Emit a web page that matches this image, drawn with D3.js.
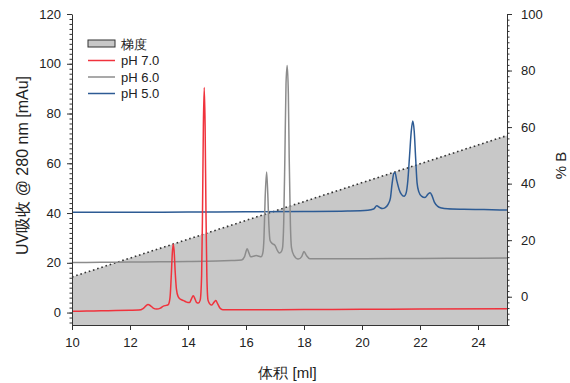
<!DOCTYPE html>
<html><head><meta charset="utf-8">
<script src="https://cdn.jsdelivr.net/npm/d3@7"></script>
<style>
body{margin:0;background:#fff;}
text{font-family:"Liberation Sans",Arial,sans-serif;fill:#222;}
</style></head>
<body><svg id="c" width="570" height="383"></svg>
<script>
// ---- data ----
const xTicks = [10,12,14,16,18,20,22,24];
const yLeftTicks = [0,20,40,60,80,100,120];
const yRightTicks = [0,20,40,60,80,100];
const legendLabels = ["梯度","pH 7.0","pH 6.0","pH 5.0"];
const gradient = [[10,7],[25,57]];
const ph7 = [[10,0.5],[10.5,0.6],[11,0.7],[11.5,0.8],[12,0.9],[12.3,1.0],[12.45,1.6],[12.55,2.7],[12.62,3.2],[12.7,2.8],[12.8,1.8],[12.92,1.4],[13.05,1.8],[13.15,2.6],[13.25,2.9],[13.32,3.2],[13.38,6],[13.42,14],[13.46,24],[13.49,27.5],[13.52,25],[13.56,16],[13.6,9.5],[13.66,6.4],[13.75,5.3],[13.85,4.8],[13.95,4.2],[14.05,4.0],[14.12,5.5],[14.18,6.8],[14.24,5.5],[14.3,4.0],[14.36,3.8],[14.42,5],[14.47,15],[14.5,40],[14.53,75],[14.56,90.5],[14.59,75],[14.62,40],[14.65,15],[14.69,5.0],[14.75,3.5],[14.82,3.0],[14.9,4.2],[14.96,4.8],[15.02,3.6],[15.1,1.8],[15.2,1.1],[16,1.1],[18,1.2],[20,1.3],[22,1.4],[25,1.5]];
const ph6 = [[10,20.1],[11,20.2],[12,20.3],[13,20.4],[14,20.5],[15,20.7],[15.5,20.9],[15.85,21.1],[15.95,22.5],[16.04,25.6],[16.1,24],[16.16,22.4],[16.25,22.6],[16.35,22.9],[16.45,22.6],[16.52,22.4],[16.58,24],[16.62,30],[16.66,46],[16.71,56.5],[16.75,48],[16.79,35],[16.83,29],[16.9,27.8],[17.0,27],[17.08,25],[17.15,23.9],[17.22,24.5],[17.26,26],[17.3,36],[17.34,62],[17.38,92],[17.42,99.3],[17.46,88],[17.49,62],[17.53,36],[17.57,26],[17.65,23],[17.8,21.5],[17.92,22.5],[18.0,24.5],[18.08,23],[18.2,21.6],[19,21.6],[21,21.7],[23,21.8],[25,21.9]];
const ph5 = [[10,40.3],[12,40.3],[14,40.4],[16,40.5],[18,40.6],[19.5,40.8],[20.2,41.1],[20.4,41.6],[20.51,42.9],[20.6,42.3],[20.7,41.8],[20.8,42.2],[20.9,43.5],[20.98,46],[21.04,52],[21.1,56],[21.14,56.2],[21.2,53],[21.28,49.5],[21.36,47.5],[21.45,46.7],[21.52,48],[21.58,53],[21.64,63],[21.7,73],[21.75,77],[21.8,73],[21.85,62],[21.9,52],[21.96,48.5],[22.05,46.8],[22.17,46.2],[22.27,47.5],[22.35,48.2],[22.42,46.8],[22.5,44.3],[22.6,42.8],[22.75,42],[22.95,41.7],[23.5,41.5],[24.2,41.4],[25,41.2]];

const colors = {grad:"#c8c8c8", ph7:"#f0323c", ph6:"#8c8c8c", ph5:"#2d5b94"};

const svg = d3.select("#c");
const L=72, R=507, T=14, B=325;
const x = d3.scaleLinear().domain([10,25]).range([L,R]);
const yL = d3.scaleLinear().domain([-5,120]).range([B,T]);
const yR = d3.scaleLinear().domain([-10,100]).range([B,T]);

// gradient area
svg.append("path").datum(gradient)
  .attr("d", d3.area().x(d=>x(d[0])).y0(B).y1(d=>yR(d[1])))
  .attr("fill", colors.grad);
svg.append("path").datum(gradient)
  .attr("d", d3.line().x(d=>x(d[0])).y(d=>yR(d[1])))
  .attr("fill","none").attr("stroke","#333").attr("stroke-width",1.6)
  .attr("stroke-dasharray","1.6,2.8");

const line = d3.line().x(d=>x(d[0])).y(d=>yL(d[1])).curve(d3.curveMonotoneX);
[[ph5,colors.ph5],[ph6,colors.ph6],[ph7,colors.ph7]].forEach(([d,c])=>{
  svg.append("path").datum(d).attr("d",line)
    .attr("fill","none").attr("stroke",c).attr("stroke-width",1.5)
    .attr("stroke-linejoin","round");
});

// axes
function styleAxis(g){
  g.select(".domain").attr("stroke","#333").attr("stroke-width",1);
  g.selectAll(".tick line").attr("stroke","#333");
  g.selectAll("text").attr("font-size",13).attr("fill","#222")
   .attr("font-family","Liberation Sans, Arial, sans-serif");
}
// minor ticks
const minorL = d3.range(-4,121,2);
const minorR = d3.range(-10,101,2);
svg.append("g").attr("transform",`translate(${L},0)`)
  .call(d3.axisLeft(yL).tickValues(minorL).tickSize(2.5).tickFormat(""))
  .call(g=>{g.select(".domain").remove(); g.selectAll(".tick line").attr("stroke","#333");});
svg.append("g").attr("transform",`translate(${R},0)`)
  .call(d3.axisRight(yR).tickValues(minorR).tickSize(2.5).tickFormat(""))
  .call(g=>{g.select(".domain").remove(); g.selectAll(".tick line").attr("stroke","#333");});

svg.append("g").attr("transform",`translate(0,${B})`)
  .call(d3.axisBottom(x).tickValues(xTicks).tickSize(5).tickSizeOuter(0).tickPadding(8))
  .call(styleAxis);
svg.append("g").attr("transform",`translate(${L},0)`)
  .call(d3.axisLeft(yL).tickValues(yLeftTicks).tickSize(5).tickSizeOuter(0).tickPadding(6))
  .call(styleAxis);
svg.append("g").attr("transform",`translate(${R},0)`)
  .call(d3.axisRight(yR).tickValues(yRightTicks).tickSize(5).tickSizeOuter(0).tickPadding(9))
  .call(styleAxis);

// titles
svg.append("text").attr("x",(L+R)/2 - 2).attr("y",378).attr("text-anchor","middle")
  .attr("font-size",15).text("体积 [ml]");
svg.append("text").attr("transform",`translate(28,${(T+B)/2 - 4}) rotate(-90)`)
  .attr("text-anchor","middle").attr("font-size",16).text("UV吸收 @ 280 nm [mAu]");
svg.append("text").attr("transform",`translate(566,${(T+B)/2 - 4}) rotate(-90)`)
  .attr("text-anchor","middle").attr("font-size",15).text("% B");

// legend
const lg = svg.append("g");
const lx=88, ly=44, dy=16.5;
lg.append("rect").attr("x",lx).attr("y",ly-4).attr("width",27).attr("height",7)
  .attr("fill",colors.grad).attr("stroke","#333").attr("stroke-width",1);
[colors.ph7,colors.ph6,colors.ph5].forEach((c,i)=>{
  lg.append("line").attr("x1",lx).attr("x2",lx+27)
    .attr("y1",ly+dy*(i+1)).attr("y2",ly+dy*(i+1))
    .attr("stroke",c).attr("stroke-width",1.5);
});
legendLabels.forEach((t,i)=>{
  lg.append("text").attr("x",lx+33).attr("y",ly+dy*i+4.5)
    .attr("font-size",13).text(t);
});
</script></body></html>
